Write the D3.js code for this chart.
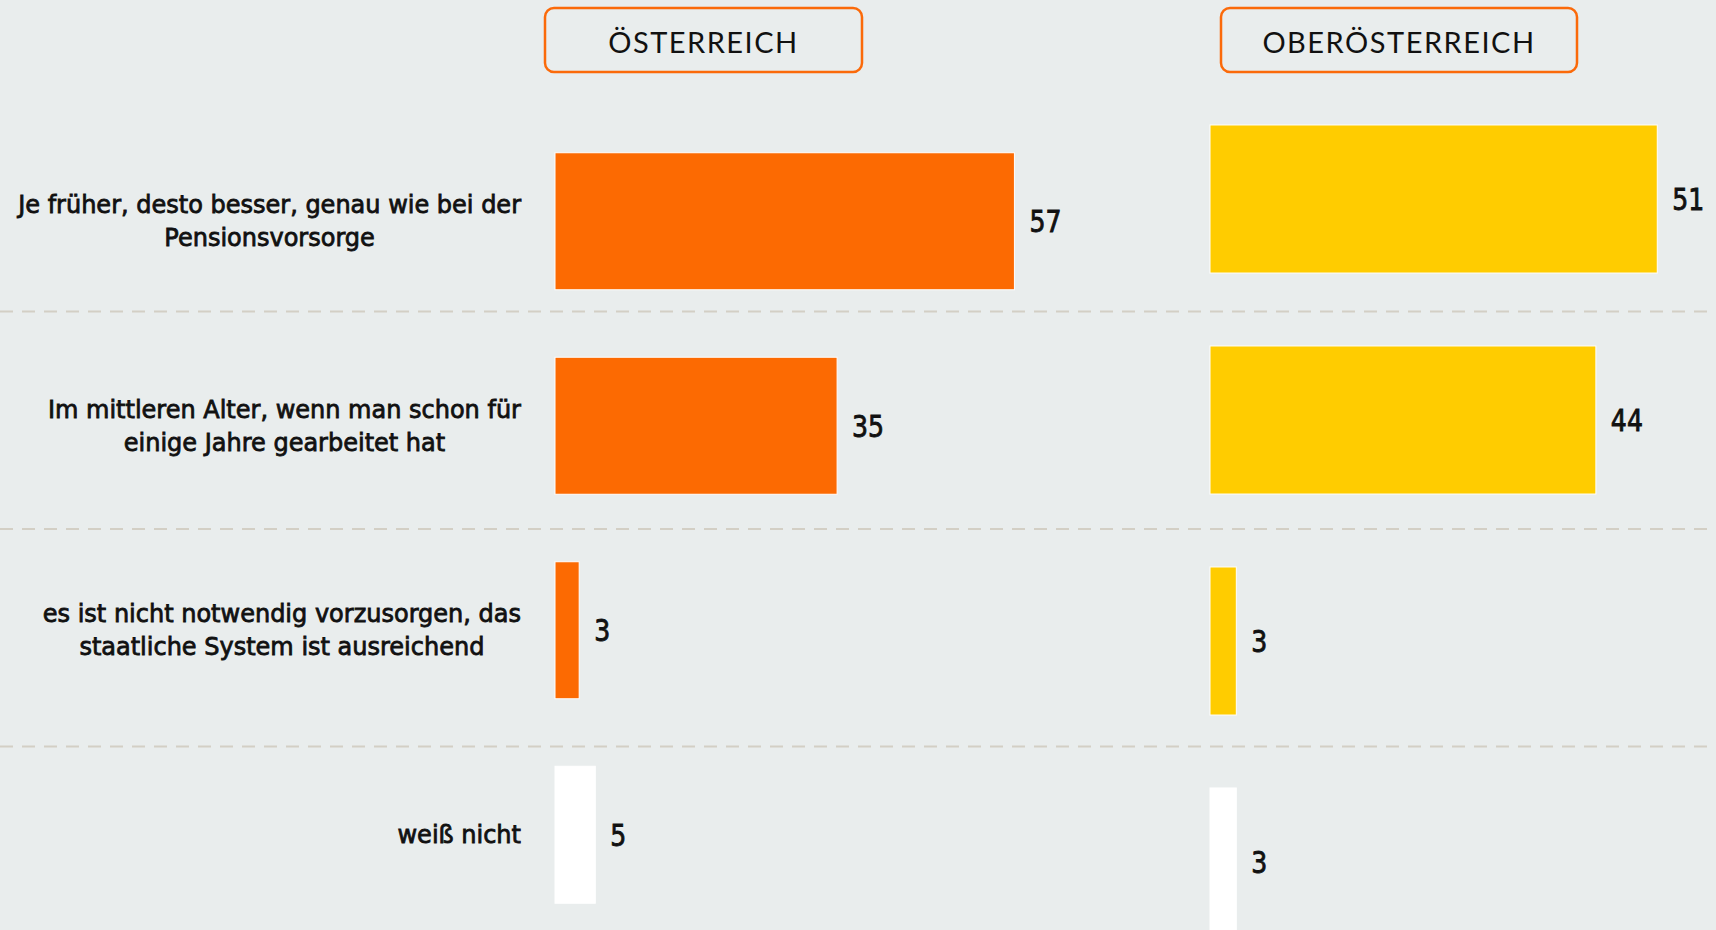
<!DOCTYPE html>
<html>
<head>
<meta charset="utf-8">
<script src="https://cdn.jsdelivr.net/npm/d3@7"></script>
<style>
  html, body { margin: 0; padding: 0; background: #e9eded; overflow: hidden; }
  svg { display: block; }
</style>
</head>
<body>
<svg id="chart" width="1716" height="930"></svg>
<script>
// ---------- data ----------
const categories = [
  ["Je früher, desto besser, genau wie bei der", "Pensionsvorsorge"],
  ["Im mittleren Alter, wenn man schon für", "einige Jahre gearbeitet hat"],
  ["es ist nicht notwendig vorzusorgen, das", "staatliche System ist ausreichend"],
  ["weiß nicht"]
];
const categoryKeys = ["frueh", "mittel", "nicht", "weissnicht"];
const panelTitles = ["ÖSTERREICH", "OBERÖSTERREICH"];
const valuesAT = [57, 35, 3, 5];
const valuesOOE = [51, 44, 3, 3];
const colorsAT = ["#fc6a02", "#fc6a02", "#fc6a02", "#ffffff"];
const colorsOOE = ["#ffcc00", "#ffcc00", "#ffcc00", "#ffffff"];

// ---------- layout ----------
const W = 1716, H = 930;
const svg = d3.select("#chart");
svg.append("rect").attr("width", W).attr("height", H).attr("fill", "#e9eded");

const panels = [
  { title: panelTitles[0], values: valuesAT, colors: colorsAT,
    x0: 555, xr: 806, yr: [119, 937], box: [545, 862] },
  { title: panelTitles[1], values: valuesOOE, colors: colorsOOE,
    x0: 1210, xr: 877, yr: [88.5, 972.5], box: [1221, 1577] }
];

// separator band scale
const sep = d3.scaleBand().domain(categoryKeys).range([94, 964]);
const sepYs = categoryKeys.slice(1).map(k => sep(k));
svg.append("g").selectAll("line").data(sepYs).join("line")
  .attr("x1", 0).attr("x2", W)
  .attr("y1", d => d).attr("y2", d => d)
  .attr("stroke", "#d3cfc5").attr("stroke-width", 2)
  .attr("stroke-dasharray", "13,9");

// category labels (aligned to left panel bands)
const yLeft = d3.scaleBand().domain(categoryKeys).range(panels[0].yr)
  .paddingInner(0.33).paddingOuter(0.165);
const labelRight = 521;
const lineH = 33;
const labG = svg.append("g");
categories.forEach((lines, i) => {
  const cy = yLeft(categoryKeys[i]) + yLeft.bandwidth() / 2;
  const t = labG.append("text")
    .attr("font-family", "DejaVu Sans, Verdana, sans-serif")
    .attr("font-size", 24)
    .attr("fill", "#111")
    .attr("stroke", "#111").attr("stroke-width", 0.8)
    .attr("text-anchor", "middle");
  const n = lines.length;
  const spans = lines.map((ln, j) => t.append("tspan")
    .attr("y", cy + (j - (n - 1) / 2) * lineH)
    .attr("dy", "0.35em")
    .text(ln));
  const widths = spans.map(s => s.node().getComputedTextLength());
  const maxW = d3.max(widths);
  spans.forEach(s => s.attr("x", labelRight - maxW / 2));
});

// panels
panels.forEach(p => {
  const g = svg.append("g");
  const x = d3.scaleLinear().domain([0, 100]).range([p.x0, p.x0 + p.xr]);
  const y = d3.scaleBand().domain(categoryKeys).range(p.yr)
    .paddingInner(0.33).paddingOuter(0.165);

  // header box
  g.append("rect")
    .attr("x", p.box[0]).attr("y", 8)
    .attr("width", p.box[1] - p.box[0]).attr("height", 64)
    .attr("rx", 9).attr("ry", 9)
    .attr("fill", "none").attr("stroke", "#fb6a0a").attr("stroke-width", 2.5);
  g.append("text")
    .attr("x", (p.box[0] + p.box[1]) / 2).attr("y", 53)
    .attr("text-anchor", "middle")
    .attr("font-family", "Lato, sans-serif")
    .attr("font-size", 29)
    .attr("letter-spacing", 1.5)
    .attr("fill", "#111")
    .text(p.title);

  const data = p.values.map((v, i) => ({ key: categoryKeys[i], v, c: p.colors[i] }));
  g.selectAll("rect.bar").data(data).join("rect")
    .attr("class", "bar")
    .attr("x", x(0))
    .attr("y", d => y(d.key))
    .attr("width", d => x(d.v) - x(0))
    .attr("height", y.bandwidth())
    .attr("fill", d => d.c)
    .attr("stroke", "#ffffff").attr("stroke-width", 1);

  g.selectAll("text.val").data(data).join("text")
    .attr("class", "val")
    .attr("x", d => x(d.v) + 15)
    .attr("y", d => y(d.key) + y.bandwidth() / 2)
    .attr("dy", "0.36em")
    .attr("font-family", "DejaVu Sans, Verdana, sans-serif")
    .attr("font-size", 30)
    .attr("fill", "#111")
    .attr("stroke", "#111").attr("stroke-width", 0.9)
    .attr("transform", d => {
      const tx = x(d.v) + 15;
      return `translate(${tx},0) scale(0.84,1) translate(${-tx},0)`;
    })
    .text(d => d.v);
});
</script>
</body>
</html>
